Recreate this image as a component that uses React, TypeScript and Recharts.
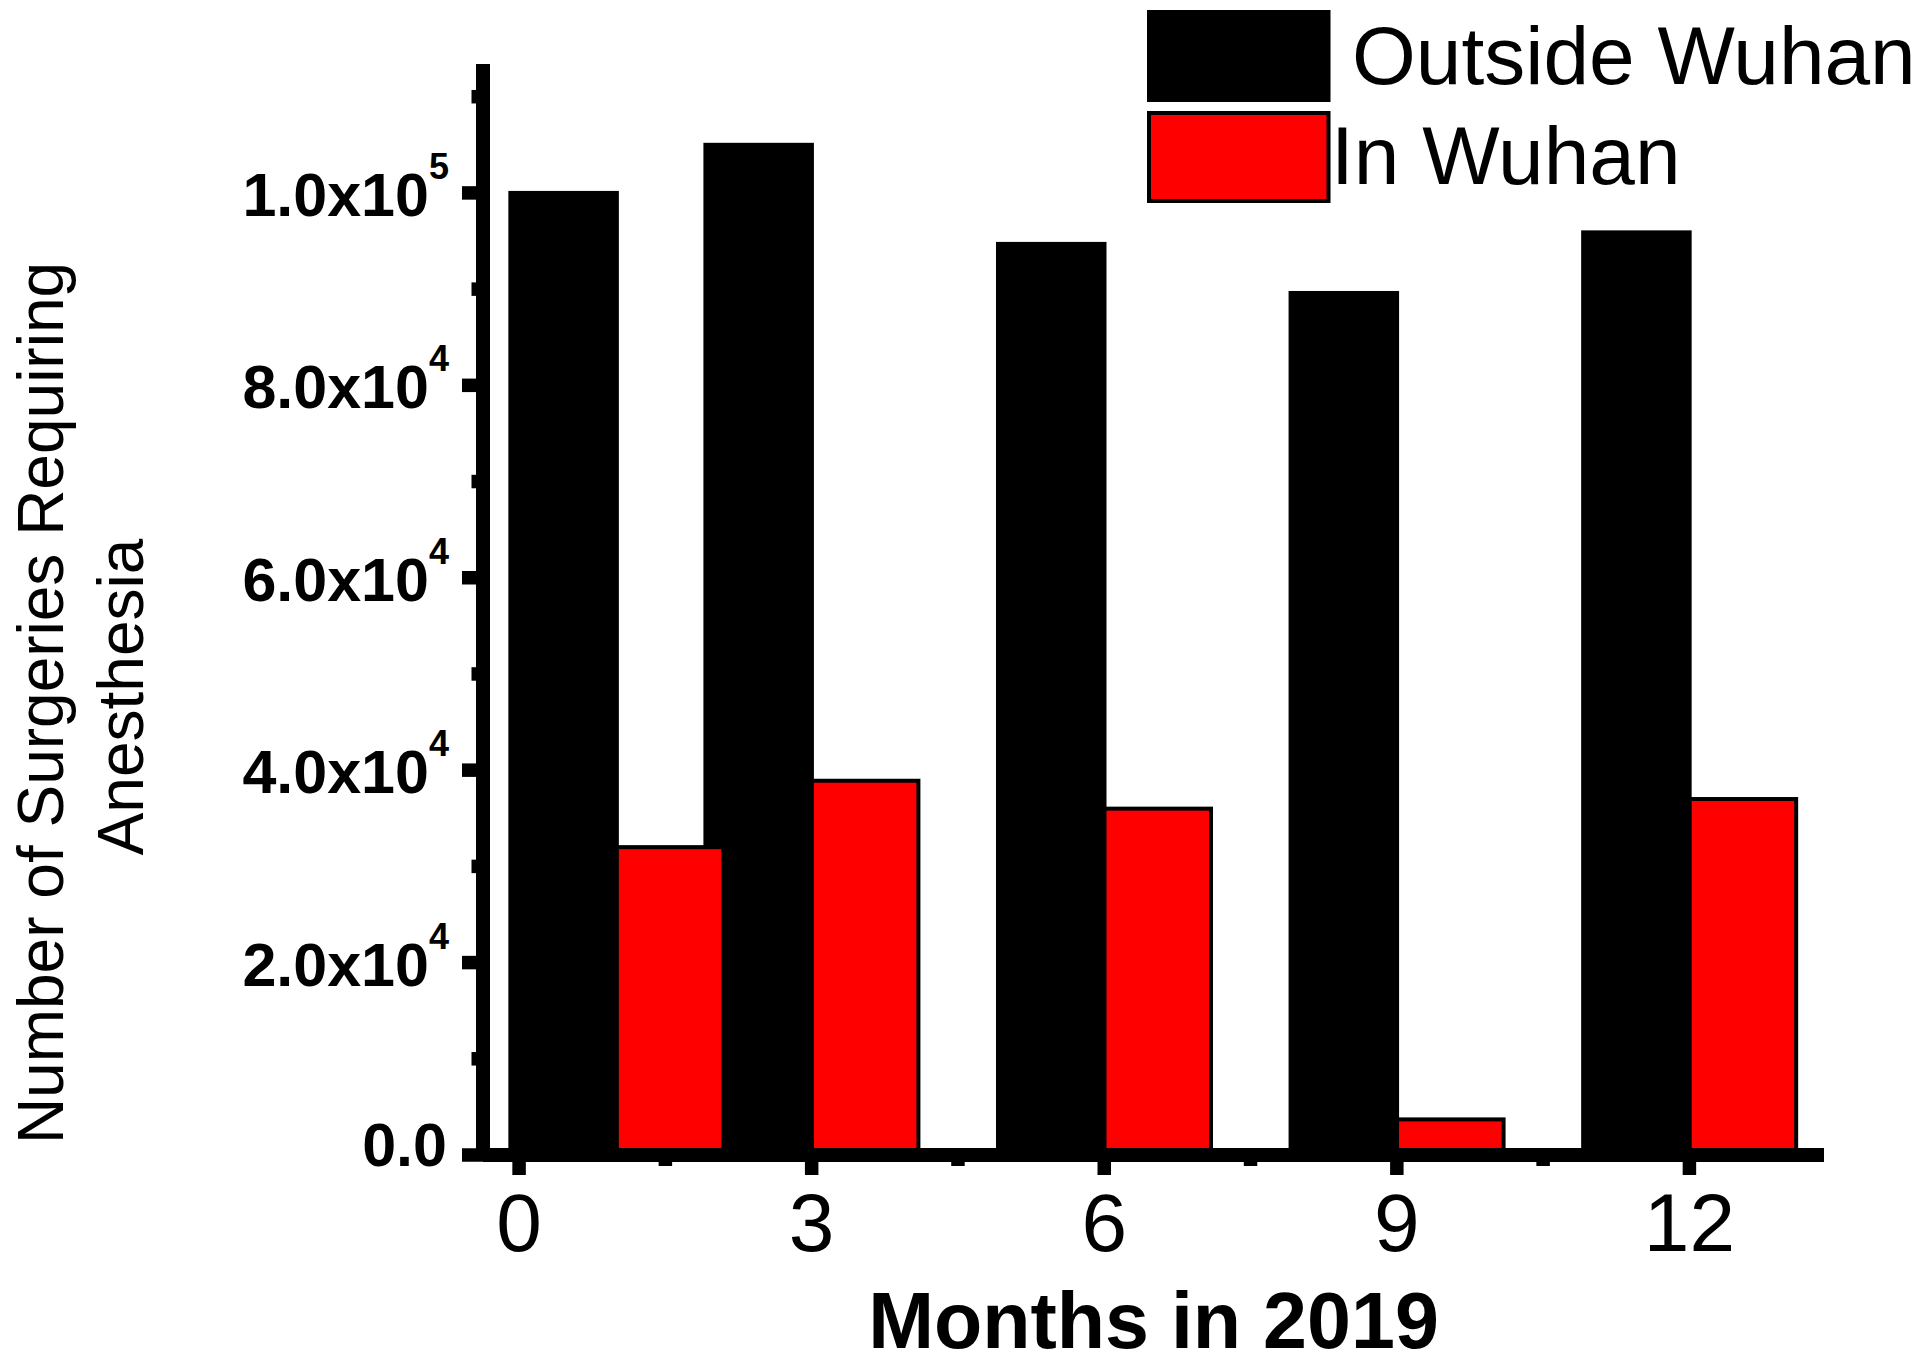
import React from "react";
import { BarChart, Bar, XAxis, YAxis, Legend } from "recharts";

// months of 2019 with a bar group
const MONTHS = [1, 3, 6, 9, 12];
const OUTSIDE_WUHAN = [100000, 105000, 94700, 89600, 95900];
const IN_WUHAN = [32000, 38900, 36000, 3700, 37000];
const SERIES_NAMES = ["Outside Wuhan", "In Wuhan"];

const X_TICKS = [0, 1.5, 3, 4.5, 6, 7.5, 9, 10.5, 12];
const X_MAJOR = [0, 3, 6, 9, 12];
const Y_TICKS = [
  0, 10000, 20000, 30000, 40000, 50000, 60000, 70000, 80000, 90000, 100000,
  110000,
];
const Y_MAJOR = [0, 20000, 40000, 60000, 80000, 100000];

const data = MONTHS.map((month, i) => ({
  month,
  outside: OUTSIDE_WUHAN[i],
  inside: IN_WUHAN[i],
}));

const FONT = '"Liberation Sans", Arial, sans-serif';
const BAR_W = 106.5;

// bars are wider than recharts allows for the 1->3 gap, so draw them ourselves
function LeftBar(props: any) {
  const { x, y, width, height, fill } = props;
  return (
    <rect
      x={x + width - BAR_W}
      y={y}
      width={BAR_W}
      height={height}
      fill={fill}
      stroke="#000"
      strokeWidth={4}
    />
  );
}

function RightBar(props: any) {
  const { x, y, height, fill } = props;
  return (
    <rect
      x={x}
      y={y}
      width={BAR_W}
      height={height}
      fill={fill}
      stroke="#000"
      strokeWidth={4}
    />
  );
}

function YTick({ x, y, payload }: any) {
  const v = payload.value;
  const major = Y_MAJOR.includes(v);
  let label = null;
  if (major && v === 0) {
    label = (
      <text
        x={x - 36}
        y={y + 11}
        textAnchor="end"
        fontFamily={FONT}
        fontWeight="bold"
        fontSize={61}
        fill="#000"
      >
        0.0
      </text>
    );
  } else if (major) {
    const exp = Math.round(Math.floor(Math.log10(v)));
    const man = (v / Math.pow(10, exp)).toFixed(1);
    label = (
      <text
        x={x - 34}
        y={y + 23}
        textAnchor="end"
        fontFamily={FONT}
        fontWeight="bold"
        fontSize={61}
        fill="#000"
      >
        {man + "x10"}
        <tspan fontSize={36} dy={-37}>
          {exp}
        </tspan>
      </text>
    );
  }
  return (
    <g>
      <line
        x1={x - (major ? 21 : 11.5)}
        x2={x}
        y1={y}
        y2={y}
        stroke="#000"
        strokeWidth={13.5}
      />
      {label}
    </g>
  );
}

function XTick({ x, y, payload }: any) {
  const major = X_MAJOR.includes(payload.value);
  return (
    <g>
      <line
        x1={x}
        x2={x}
        y1={y}
        y2={y + (major ? 20 : 11)}
        stroke="#000"
        strokeWidth={13.5}
      />
      {major && (
        <text
          x={x}
          y={y + 96}
          textAnchor="middle"
          fontFamily={FONT}
          fontSize={82}
          fill="#000"
        >
          {payload.value}
        </text>
      )}
    </g>
  );
}

function YTitle() {
  return (
    <g>
      <text
        x={63}
        y={703}
        transform="rotate(-90 63 703)"
        textAnchor="middle"
        fontFamily={FONT}
        fontSize={64}
        fill="#000"
      >
        Number of Surgeries Requiring
      </text>
      <text
        x={143}
        y={697}
        transform="rotate(-90 143 697)"
        textAnchor="middle"
        fontFamily={FONT}
        fontSize={64}
        fill="#000"
      >
        Anesthesia
      </text>
    </g>
  );
}

function XTitle(props: any) {
  const vb = props.viewBox || { x: 483, y: 1155, width: 1341 };
  return (
    <text
      x={vb.x + vb.width / 2}
      y={vb.y + 193}
      textAnchor="middle"
      fontFamily={FONT}
      fontWeight="bold"
      fontSize={79}
      fill="#000"
    >
      Months in 2019
    </text>
  );
}

function LegendBox({ payload }: any) {
  // keep the series order (recharts sorts legend items by name)
  const items = [...(payload || [])].sort(
    (a: any, b: any) =>
      SERIES_NAMES.indexOf(a.value) - SERIES_NAMES.indexOf(b.value)
  );
  return (
    <svg width={786} height={215} style={{ display: "block" }}>
      {items.map((entry: any, i: number) => (
        <g key={entry.value}>
          <rect
            x={9}
            y={12 + i * 101}
            width={179.5}
            height={88}
            fill={entry.color}
            stroke="#000"
            strokeWidth={4}
          />
          <text
            x={191 + (i === 0 ? 21 : 0)}
            y={84 + i * 100}
            fontFamily={FONT}
            fontSize={82}
            fill="#000"
          >
            {entry.value}
          </text>
        </g>
      ))}
    </svg>
  );
}

export default function App() {
  return (
    <div style={{ position: "absolute", left: 0, top: 0, background: "#fff" }}>
      <BarChart
        width={1926}
        height={1369}
        data={data}
        barGap={0}
        margin={{ top: 64, right: 102, bottom: 0, left: 0 }}
      >
        <Bar
          dataKey="outside"
          name={SERIES_NAMES[0]}
          fill="#000000"
          barSize={BAR_W}
          shape={(p: any) => <LeftBar {...p} />}
          isAnimationActive={false}
        />
        <Bar
          dataKey="inside"
          name={SERIES_NAMES[1]}
          fill="#ff0000"
          barSize={BAR_W}
          shape={(p: any) => <RightBar {...p} />}
          isAnimationActive={false}
        />
        <XAxis
          type="number"
          dataKey="month"
          domain={[-0.37, 13.38]}
          ticks={X_TICKS}
          interval={0}
          height={214}
          tickSize={0}
          tickMargin={0}
          tickLine={false}
          axisLine={{ stroke: "#000", strokeWidth: 14 }}
          tick={(p: any) => <XTick {...p} />}
          label={<XTitle />}
        />
        <YAxis
          type="number"
          domain={[0, 113400]}
          ticks={Y_TICKS}
          interval={0}
          width={483}
          tickSize={0}
          tickMargin={0}
          tickLine={false}
          axisLine={{ stroke: "#000", strokeWidth: 14 }}
          tick={(p: any) => <YTick {...p} />}
          label={<YTitle />}
        />
        <Legend
          layout="horizontal"
          verticalAlign="middle"
          align="center"
          content={(p: any) => <LegendBox {...p} />}
          wrapperStyle={{ left: 1140, top: 0, width: 786, height: 215 }}
        />
      </BarChart>
    </div>
  );
}
